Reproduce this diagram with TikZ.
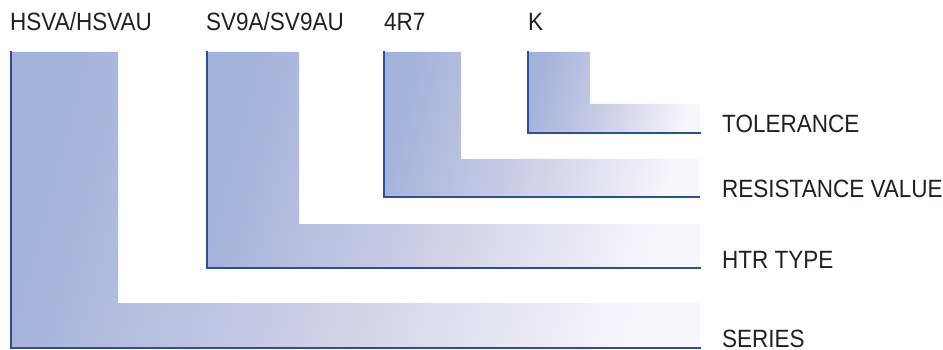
\documentclass[tikz,border=0pt]{standalone}
\usepackage{fontspec}
\setmainfont[FakeStretch=0.9]{Liberation Sans}
\definecolor{bandA}{HTML}{A4B3DC}
\definecolor{bandB}{HTML}{CFCFE6}
\definecolor{bandC}{HTML}{F7F6FB}
\definecolor{edge}{HTML}{2E4C9C}
\definecolor{ink}{HTML}{231F20}
\tikzset{
  band/.style={left color=bandA, right color=bandC, middle color=bandB, shading angle=75},
  bandedge/.style={draw=edge, line width=1.3pt, line cap=rect},
  lbl/.style={anchor=base west, inner sep=0pt, text=ink, font=\fontsize{25}{28}\selectfont}
}
\begin{document}
\begin{tikzpicture}[x=1pt,y=-1pt]
\useasboundingbox (0,0) rectangle (943,350);
% SERIES
\shade[band] (11,52) -- (118,52) -- (118,303) -- (700,303) -- (700,348) -- (11,348) -- cycle;
\draw[bandedge] (11,52) -- (11,348) -- (700,348);
% HTR TYPE
\shade[band] (207,52) -- (299,52) -- (299,224) -- (700,224) -- (700,268) -- (207,268) -- cycle;
\draw[bandedge] (207,52) -- (207,268) -- (700,268);
% RESISTANCE VALUE
\shade[band] (384,52) -- (461,52) -- (461,159) -- (699,159) -- (699,197) -- (384,197) -- cycle;
\draw[bandedge] (384,52) -- (384,197) -- (699,197);
% TOLERANCE
\shade[band] (528,52) -- (590,52) -- (590,104) -- (700,104) -- (700,133) -- (528,133) -- cycle;
\draw[bandedge] (528,52) -- (528,133) -- (700,133);
% top labels
\node[lbl] (hsva) at (10,31) {HSVA/HSVAU};
\node[lbl] (sv9a) at (206,31) {SV9A/SV9AU};
\node[lbl] (r47) at (384,31) {4R7};
\node[lbl] (k) at (528,31) {K};
% right labels
\node[lbl] (tol) at (722,133) {TOLERANCE};
\node[lbl] (res) at (722,197) {RESISTANCE VALUE};
\node[lbl] (htr) at (722,268) {HTR TYPE};
\node[lbl] (ser) at (722,347.5) {SERIES};
\end{tikzpicture}
\end{document}
